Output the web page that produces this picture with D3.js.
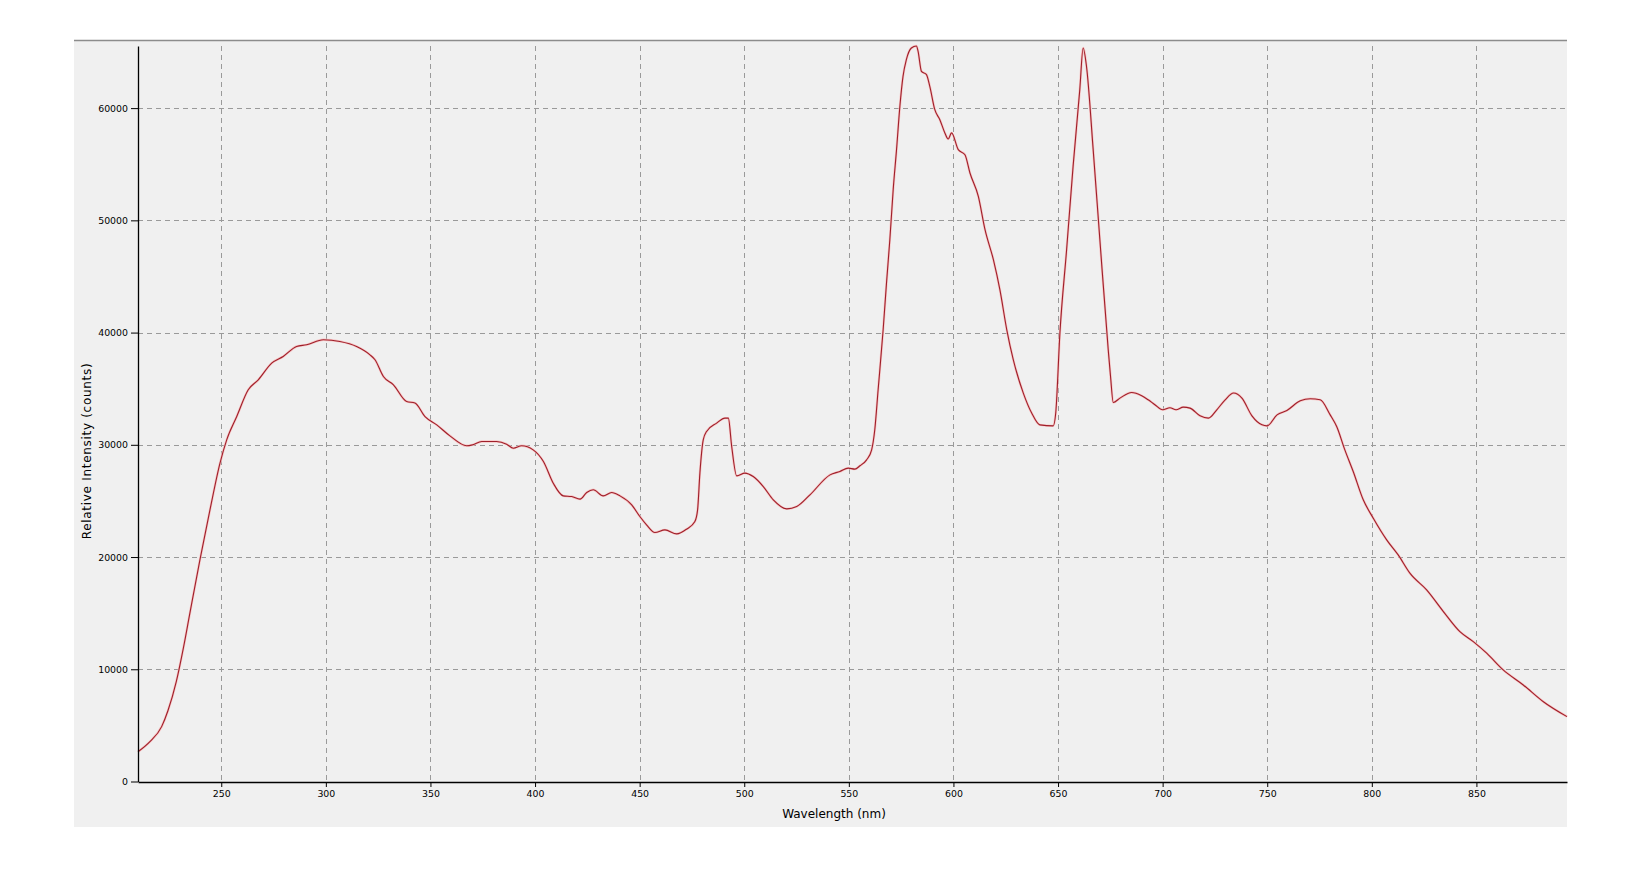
<!DOCTYPE html>
<html>
<head>
<meta charset="utf-8">
<script src="https://cdn.jsdelivr.net/npm/d3@7"></script>
<style>
  body { margin: 0; background: #fff; }
  svg { display: block; }
  .tick text { font-family: "DejaVu Sans", sans-serif; font-size: 9.4px; fill: #000; }
  .axis-label { font-family: "DejaVu Sans", sans-serif; font-size: 12px; fill: #000; }
</style>
</head>
<body>
<svg id="chart" width="1642" height="877"></svg>
<script>
// spectrum: wavelength (nm) and relative intensity (counts)
var wavelengths = [
  210.2, 215.9, 221.5, 224.5, 228.5, 232.0, 235.0, 239.8, 244.6, 249.4, 252.6,
  257.4, 262.9, 267.7, 274.1, 279.6, 286.0, 290.8, 298.8, 306.7, 314.7,
  321.1, 323.5, 327.5, 332.3, 338.6, 342.6, 347.4, 353.0, 359.3, 367.3,
  370.2, 374.5, 381.6, 386.4, 389.6, 393.6, 399.1, 404.0, 408.7, 413.5,
  417.5, 421.5, 424.7, 427.8, 432.6, 436.6, 440.6, 446.2, 450.1, 453.3,
  457.3, 462.1, 467.7, 472.4, 476.4, 477.7, 478.8, 480.4, 482.0, 486.8,
  490.8, 492.4, 494.0, 496.4, 500.3, 504.3, 509.1, 513.9, 520.3, 525.1,
  531.4, 541.0, 545.7, 549.7, 552.9, 555.3, 558.5, 560.9, 562.4, 564.0,
  566.4, 568.0, 569.6, 571.2, 572.8, 574.4, 575.9, 577.5, 579.9, 582.3,
  583.1, 584.7, 587.1, 588.7, 591.1, 593.5, 595.9, 597.5, 599.1, 602.3,
  605.5, 607.9, 611.9, 615.1, 619.1, 622.2, 625.5, 628.6, 633.4, 637.4,
  641.3, 647.7, 648.9, 650.9, 654.1, 657.2, 660.4, 662.0, 663.6, 666.8,
  670.0, 674.0, 675.1, 676.4, 679.6, 685.2, 690.0, 693.1, 696.3, 700.0,
  703.5, 706.4, 709.9, 713.1, 717.9, 721.9, 725.9, 729.9, 733.9, 737.9,
  742.7, 747.5, 749.9, 754.7, 759.4, 765.8, 770.6, 775.3, 780.1, 783.2,
  787.1, 791.1, 795.9, 800.7, 807.1, 812.6, 818.2, 826.2, 834.2, 842.1,
  848.5, 854.9, 862.8, 872.4, 882.0, 893.3
];
var intensities = [
  2650, 3550, 4890, 6300, 8900, 12000, 15000, 19750, 24200, 28370, 30440,
  32520, 34900, 35790, 37280, 37870, 38760, 38910, 39360, 39210, 38760,
  38020, 37580, 36090, 35350, 33860, 33720, 32520, 31780, 30800, 29910,
  30000, 30290, 30290, 30060, 29700, 29910, 29550, 28510, 26580, 25450,
  25390, 25160, 25750, 25990, 25450, 25750, 25450, 24650, 23610, 22870,
  22180, 22420, 22060, 22480, 23160, 24200, 27480, 30440, 31190, 31930,
  32380, 32380, 29850, 27230, 27480, 27170, 26280, 25100, 24290, 24500,
  25540, 27320, 27620, 27920, 27830, 28130, 28660, 29550, 31340, 34900,
  40250, 44410, 48270, 52730, 56300, 60160, 62830, 64320, 65360, 65535,
  65060, 63280, 62990, 61940, 59860, 58970, 57790, 57250, 57790, 56300,
  55850, 54220, 52140, 49170, 46490, 43820, 40250, 37580, 34610, 32830,
  31780, 31690, 32830, 39960, 47380, 54810, 61650, 65360, 63730, 56300,
  48270, 38470, 36090, 33770, 34160, 34660, 34370, 34010, 33570, 33120,
  33300, 33120, 33360, 33270, 32580, 32380, 33120, 34010, 34610, 34160,
  32580, 31780, 31690, 32670, 33060, 33920, 34100, 34010, 32670, 31630,
  29550, 27620, 25100, 23460, 21530, 20190, 18560, 17070, 15140, 13350,
  12460, 11430, 9940, 8600, 7110, 5780
];
var xTicks = [250, 300, 350, 400, 450, 500, 550, 600, 650, 700, 750, 800, 850];
var yTicks = [0, 10000, 20000, 30000, 40000, 50000, 60000];
var xDomain = [210.2, 893.3];
var yMax = 65535;

var svg = d3.select('#chart');

// plot box inside the grey panel
var plot = {l: 138, r: 1567, t: 46, b: 781.5};

var x = d3.scaleLinear().domain(xDomain).range([plot.l, plot.r]);
var y = d3.scaleLinear().domain([0, yMax]).range([plot.b, plot.t]);

// grey panel with darker top edge
svg.append('rect')
  .attr('x', 74).attr('y', 40)
  .attr('width', plot.r - 74).attr('height', 787)
  .style('fill', '#f0f0f0');
svg.append('line')
  .attr('x1', 74).attr('x2', plot.r)
  .attr('y1', 40.5).attr('y2', 40.5)
  .style('stroke', '#8c8c8c').style('stroke-width', 1.5);

// dashed grid
var gridG = svg.append('g');
gridG.selectAll('.vgrid')
  .data(xTicks)
  .enter().append('line')
  .attr('class', 'vgrid')
  .attr('x1', function(d) { return Math.round(x(d)) + 0.5; })
  .attr('x2', function(d) { return Math.round(x(d)) + 0.5; })
  .attr('y1', plot.t).attr('y2', plot.b)
  .style('stroke', '#9a9a9a').style('stroke-dasharray', '5,4');
gridG.selectAll('.hgrid')
  .data(yTicks.filter(function(d) { return d > 0; }))
  .enter().append('line')
  .attr('class', 'hgrid')
  .attr('x1', plot.l).attr('x2', plot.r)
  .attr('y1', function(d) { return Math.round(y(d)) + 0.5; })
  .attr('y2', function(d) { return Math.round(y(d)) + 0.5; })
  .style('stroke', '#9a9a9a').style('stroke-dasharray', '5,4');

// spectrum line, with a faint pink halo like the original rendering
var points = wavelengths.map(function(w, i) { return [w, intensities[i]]; });
var line = d3.line()
  .x(function(d) { return x(d[0]); })
  .y(function(d) { return y(d[1]); })
  .curve(d3.curveMonotoneX);

svg.append('path')
  .datum(points)
  .attr('d', line)
  .style('fill', 'none')
  .style('stroke', '#f7c4c4')
  .style('stroke-width', 2.4)
  .style('stroke-linejoin', 'round');
svg.append('path')
  .datum(points)
  .attr('d', line)
  .style('fill', 'none')
  .style('stroke', '#9e1f2a')
  .style('stroke-width', 1.1)
  .style('stroke-linejoin', 'round');

// axes
var xAxis = svg.append('g')
  .attr('transform', 'translate(0,' + Math.round(plot.b) + ')')
  .call(d3.axisBottom(x).tickValues(xTicks).tickSize(5).tickSizeOuter(0).tickPadding(3));
var yAxis = svg.append('g')
  .attr('transform', 'translate(' + plot.l + ',0)')
  .call(d3.axisLeft(y).tickValues(yTicks).tickSize(7).tickSizeOuter(0).tickPadding(3)
    .tickFormat(d3.format('d')));

[xAxis, yAxis].forEach(function(a) {
  a.select('.domain').style('stroke', '#000').style('stroke-width', 1.3);
  a.selectAll('.tick line').style('stroke', '#000');
  a.attr('font-family', null).attr('font-size', null);
});

// axis titles
svg.append('text')
  .attr('class', 'axis-label')
  .attr('x', 834).attr('y', 818)
  .attr('text-anchor', 'middle')
  .text('Wavelength (nm)');
svg.append('text')
  .attr('class', 'axis-label')
  .attr('transform', 'translate(91,451) rotate(-90)')
  .attr('text-anchor', 'middle')
  .style('letter-spacing', '0.7px')
  .text('Relative Intensity (counts)');
</script>
</body>
</html>
